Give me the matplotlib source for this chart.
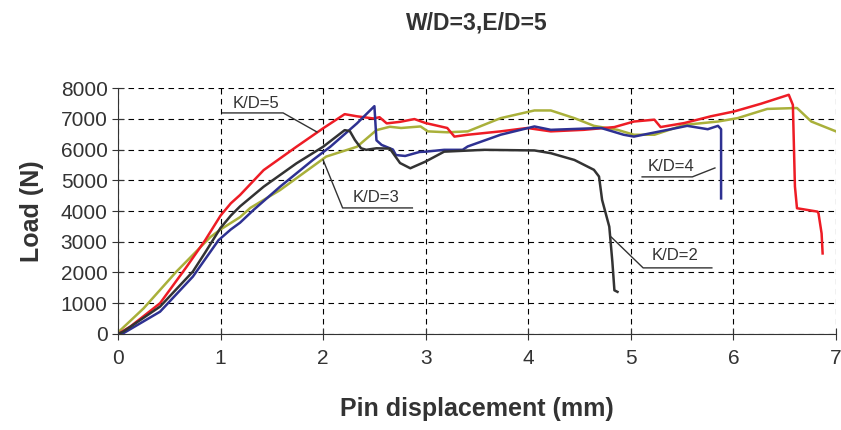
import numpy as np
from matplotlib import pyplot as plt

plt.rcParams['font.family'] = ['Liberation Sans', 'DejaVu Sans']

# K/D=5 (red)
red_x = [0, 0.12, 0.41, 0.67, 0.85, 1.0, 1.1, 1.19, 1.42, 1.74, 2.0, 2.21, 2.33, 2.49, 2.55, 2.62,
         2.75, 2.89, 3.0, 3.21, 3.28, 3.41, 3.73, 3.99, 4.22, 4.54, 4.84, 5.03, 5.23, 5.29, 5.52, 5.78,
         6.01, 6.27, 6.54, 6.58, 6.6, 6.62, 6.82, 6.83, 6.86, 6.87]
red_y = [0, 240, 1000, 2190, 3050, 3850, 4250, 4520, 5330, 6090, 6690, 7150, 7080, 7010, 7050, 6850,
         6900, 6990, 6860, 6700, 6420, 6480, 6590, 6700, 6590, 6640, 6730, 6910, 6970, 6730, 6860,
         7080, 7240, 7490, 7780, 7450, 4800, 4090, 3980, 3920, 3270, 2620]

# K/D=3 (olive)
olive_x = [0, 0.25, 0.57, 0.9, 1.0, 1.19, 1.29, 1.58, 1.94, 2.03, 2.33, 2.52, 2.65, 2.76, 2.95, 3.02,
           3.21, 3.41, 3.73, 4.06, 4.22, 4.45, 4.64, 4.87, 5.03, 5.23, 5.52, 5.85, 6.04, 6.33, 6.62,
           6.76, 7.0]
olive_y = [50, 835, 2030, 3150, 3400, 3800, 4100, 4680, 5550, 5770, 6090, 6630, 6740, 6700, 6750,
           6590, 6560, 6590, 7020, 7270, 7270, 7020, 6770, 6640, 6480, 6480, 6800, 6910, 7020, 7320,
           7350, 6910, 6590]

# K/D=4 (blue)
blue_x = [0, 0.05, 0.41, 0.73, 0.98, 1.1, 1.19, 1.32, 1.58, 1.90, 2.07, 2.33, 2.50, 2.52, 2.57, 2.68,
          2.71, 2.80, 2.94, 3.0, 3.18, 3.36, 3.41, 3.73, 4.06, 4.22, 4.71, 4.93, 5.03, 5.36, 5.55,
          5.75, 5.85, 5.88, 5.88]
blue_y = [0, 20, 725, 1865, 3050, 3400, 3620, 4030, 4790, 5660, 6090, 6850, 7410, 6300, 6150, 6000,
          5820, 5790, 5920, 5930, 5990, 5990, 6100, 6480, 6750, 6640, 6700, 6480, 6420, 6640, 6770,
          6660, 6770, 6660, 4410]

# K/D=2 (black)
black_x = [0, 0.05, 0.41, 0.73, 0.85, 1.0, 1.1, 1.19, 1.42, 1.74, 2.0, 2.21, 2.26, 2.31, 2.37, 2.42,
           2.52, 2.65, 2.75, 2.85, 3.0, 3.18, 3.57, 4.06, 4.22, 4.45, 4.64, 4.69, 4.72, 4.79, 4.82,
           4.84, 4.87]
black_y = [0, 75, 890, 2030, 2650, 3450, 3850, 4150, 4790, 5550, 6090, 6630, 6600, 6310, 6040, 5990,
           6040, 6030, 5560, 5390, 5610, 5930, 5990, 5970, 5880, 5660, 5340, 5120, 4360, 3490, 2350,
           1420, 1370]

fig = plt.figure(figsize=(8.41, 4.30), dpi=100)
ax = fig.add_axes([0.1403, 0.2233, 0.8537, 0.572])

ax.plot(olive_x, olive_y, color='#a9b03a', lw=1.8)
ax.plot(red_x, red_y, color='#ee1c25', lw=1.8)
ax.plot(blue_x, blue_y, color='#2e3192', lw=1.8)
ax.plot(black_x, black_y, color='#333333', lw=1.8)

# labels with leader lines
ax.plot([1.02, 1.61, 1.94], [7190, 7190, 6570], color='#333333', lw=1)
ax.text(1.35, 7500, 'K/D=5', ha='center', va='center', fontsize=12, color='#333333')
ax.plot([2.87, 2.19, 2.0], [4100, 4100, 5660], color='#333333', lw=1)
ax.text(2.52, 4450, 'K/D=3', ha='center', va='center', fontsize=12, color='#333333')
ax.plot([5.11, 5.6, 5.82], [5110, 5110, 5400], color='#333333', lw=1)
ax.text(5.39, 5460, 'K/D=4', ha='center', va='center', fontsize=12, color='#333333')
ax.plot([5.79, 5.12, 4.81], [2150, 2150, 3150], color='#333333', lw=1)
ax.text(5.43, 2550, 'K/D=2', ha='center', va='center', fontsize=12, color='#333333')

ax.set_xlim(0, 7)
ax.set_ylim(0, 8000)
ax.set_xticks(range(0, 8))
ax.set_yticks(range(0, 8001, 1000))
ax.grid(color='black', linestyle=(0, (5, 4)), linewidth=0.8)
ax.spines['top'].set_visible(False)
ax.spines['right'].set_visible(False)
for s in ['left', 'bottom']:
    ax.spines[s].set_color('#333333')
ax.tick_params(direction='inout', length=8, color='#333333', labelsize=15, labelcolor='#333333')
ax.tick_params(axis='x', pad=7)

ax.set_xlabel('Pin displacement (mm)', fontsize=18, fontweight='bold', color='#333333', labelpad=21)
ax.set_ylabel('Load (N)', fontsize=18, fontweight='bold', color='#333333', labelpad=12)
fig.text(0.567, 0.946, 'W/D=3,E/D=5', ha='center', va='center', fontsize=16.5, fontweight='bold',
         color='#333333')

fig.savefig('out.png', dpi=100)
